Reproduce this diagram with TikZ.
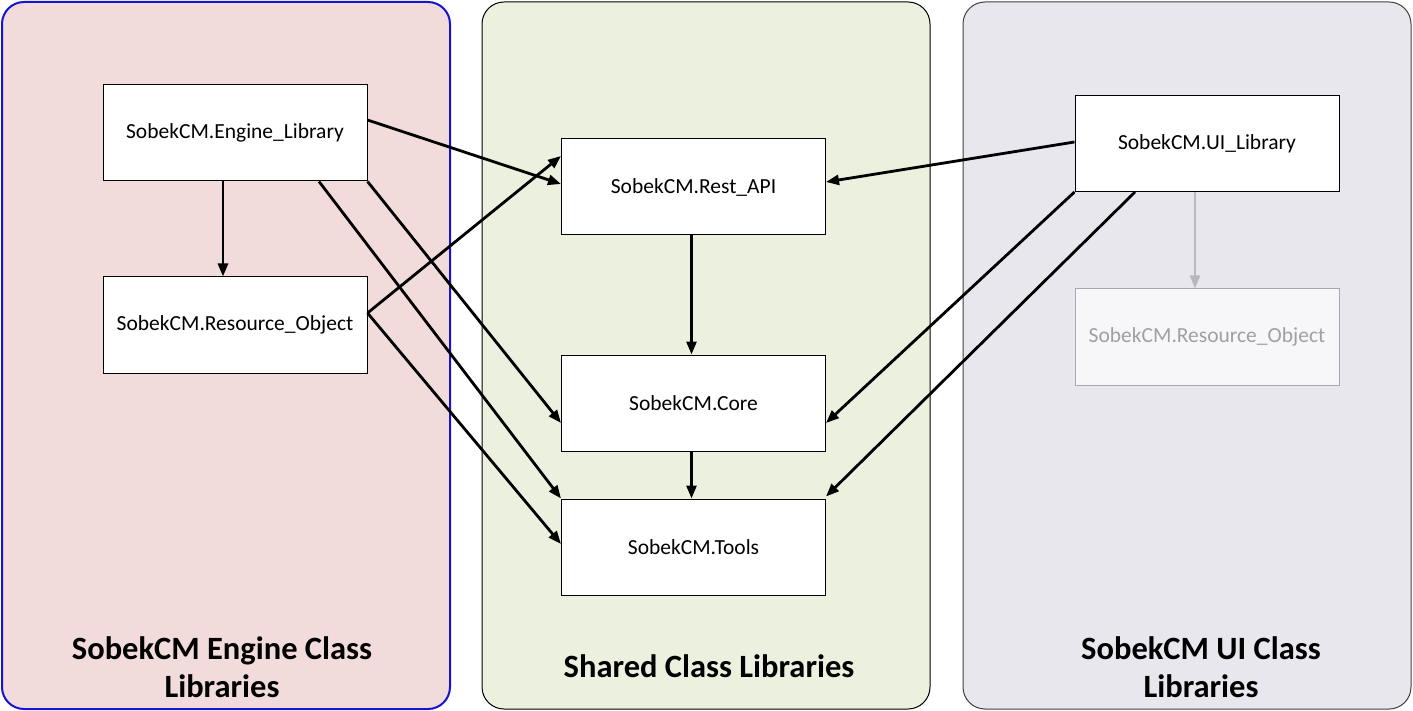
\documentclass[tikz,border=0pt]{standalone}
\usepackage{fontspec}
\setmainfont{Carlito}
\usetikzlibrary{arrows.meta,calc}
\definecolor{pinkbg}{HTML}{F2DCDB}
\definecolor{greenbg}{HTML}{EBF1DE}
\definecolor{lilacbg}{HTML}{E9E7EE}
\definecolor{blueedge}{HTML}{1414D2}
\definecolor{fadeedge}{HTML}{A8A8B0}
\definecolor{fadetext}{HTML}{A0A0A4}
\definecolor{fadefill}{HTML}{F7F7F9}
\definecolor{fadearrow}{HTML}{B8B8BE}
\tikzset{
  panel/.style={rounded corners=22pt},
  libbox/.style={draw=black, line width=1pt, fill=white, minimum width=264pt, minimum height=96pt, inner sep=0pt, font=\fontsize{21.5}{24}\selectfont},
  fadebox/.style={libbox, draw=fadeedge, fill=fadefill, text=fadetext},
  title/.style={font=\fontsize{32.5}{38}\selectfont\bfseries, align=center},
  dep/.style={line width=2.8pt, -{Triangle[length=13pt,width=10pt]}},
  fadedep/.style={dep, draw=fadearrow, -{Triangle[length=13pt,width=10pt,fill=fadearrow]}}
}
\begin{document}
\begin{tikzpicture}[x=1pt,y=-1pt]
\useasboundingbox (0,0) rectangle (1413,711);
% panels
\draw[panel, fill=pinkbg, draw=blueedge, line width=2pt] (2,2) rectangle (450,709);
\draw[panel, fill=greenbg, draw=black, line width=1pt] (482,2) rectangle (930,709);
\draw[panel, fill=lilacbg, draw=black!75, line width=1pt] (963,2) rectangle (1411,709);
% titles
\node[title] (t1) at (222,667) {SobekCM Engine Class\\Libraries};
\node[title] (t2) at (709,666) {Shared Class Libraries};
\node[title] (t3) at (1201,667) {SobekCM UI Class\\Libraries};
% boxes
\node[libbox] (eng) at (235,133) {\raisebox{-1.5pt}{SobekCM.Engine\_Library}};
\node[libbox] (res) at (235,325) {\raisebox{-1.5pt}{SobekCM.Resource\_Object}};
\node[libbox] (rest) at (693.5,187) {\raisebox{-1.5pt}{SobekCM.Rest\_API}};
\node[libbox] (core) at (693.5,403) {\raisebox{-1.5pt}{SobekCM.Core}};
\node[libbox] (tools) at (693.5,547) {\raisebox{-1.5pt}{SobekCM.Tools}};
\node[libbox] (ui) at (1207,143.5) {\raisebox{-1.5pt}{SobekCM.UI\_Library}};
\node[fadebox] (resr) at (1207,337) {\raisebox{-1.5pt}{SobekCM.Resource\_Object}};
% connectors
\draw[dep] ([yshift=13pt]eng.east) -- ([yshift=3pt]rest.west);
\draw[dep] ([xshift=-12pt]eng.south) -- ([xshift=-12pt]res.north);
\draw[dep] (eng.south east) -- ([yshift=-20pt]core.west);
\draw[dep] ([xshift=84pt]eng.south) -- (tools.north west);
\draw[dep] ([yshift=12pt]res.east) -- ([yshift=31pt]rest.west);
\draw[dep] ([yshift=12pt]res.east) -- ([yshift=3pt]tools.west);
\draw[dep] ([xshift=-2pt]rest.south) -- ([xshift=-2pt]core.north);
\draw[dep] ([xshift=-2pt]core.south) -- ([xshift=-2pt]tools.north);
\draw[dep] ([yshift=1.5pt]ui.west) -- ([yshift=5pt]rest.east);
\draw[dep] (ui.south west) -- ([yshift=-20pt]core.east);
\draw[dep] ([xshift=-72pt]ui.south) -- ([yshift=2pt]tools.north east);
\draw[fadedep] ([xshift=-12pt]ui.south) -- ([xshift=-12pt]resr.north);
\end{tikzpicture}
\end{document}
